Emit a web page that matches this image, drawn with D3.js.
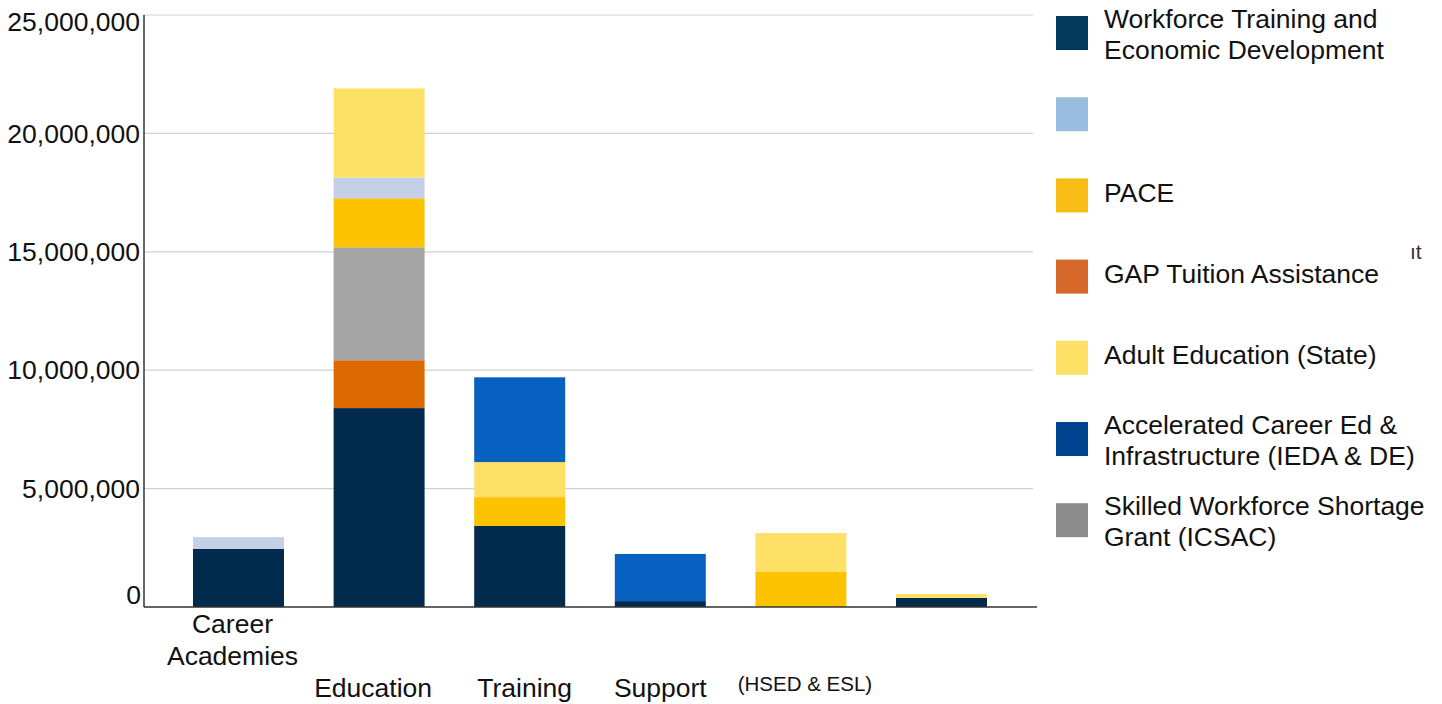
<!DOCTYPE html>
<html>
<head>
<meta charset="utf-8">
<script src="https://cdn.jsdelivr.net/npm/d3@7"></script>
<style>
  html, body { margin: 0; padding: 0; background: #fff; }
  svg { display: block; font-family: "Liberation Sans", Arial, sans-serif; }
</style>
</head>
<body>
<svg id="chart" width="1442" height="704"></svg>
<script>
// ---- data ----
const categories = ["Career Academies", "Education", "Training", "Support", "HSED & ESL", "Other"];
const categoryLabelLines = [
  ["Career", "Academies"],
  ["", "", "Education"],
  ["", "", "Training"],
  ["", "", "Support"],
  ["", "", "(HSED & ESL)"],
  []
];
const seriesNames = [
  "Workforce Training and Economic Development",
  "GAP Tuition Assistance",
  "Skilled Workforce Shortage Grant (ICSAC)",
  "PACE",
  "",
  "Adult Education (State)",
  "Accelerated Career Ed & Infrastructure (IEDA & DE)"
];
const workforceTraining = [2450000, 8400000, 3420000, 250000, 0, 380000];
const gapTuition        = [0, 2020000, 0, 0, 0, 0];
const skilledWorkforce  = [0, 4770000, 0, 0, 0, 0];
const pace              = [0, 2070000, 1220000, 0, 1480000, 0];
const unnamedSeries     = [500000, 880000, 0, 0, 0, 0];
const adultEducation    = [0, 3760000, 1480000, 0, 1640000, 170000];
const acceleratedCareer = [0, 0, 3580000, 1990000, 0, 0];
const seriesValues = [workforceTraining, gapTuition, skilledWorkforce, pace, unnamedSeries, adultEducation, acceleratedCareer];
const barColors = ["#012b4c", "#dd6a00", "#a5a5a5", "#fdc300", "#c4d0e8", "#ffe066", "#0761c0"];

const legendLines = [
  ["Workforce Training and", "Economic Development"],
  [],
  ["PACE"],
  ["GAP Tuition Assistance"],
  ["Adult Education (State)"],
  ["Accelerated Career Ed &", "Infrastructure (IEDA & DE)"],
  ["Skilled Workforce Shortage", "Grant (ICSAC)"]
];
const legendColors = ["#023a5e", "#99bde0", "#f9bc15", "#d5672a", "#ffe066", "#014590", "#8c8c8c"];
const yTicks = [0, 5000000, 10000000, 15000000, 20000000, 25000000];

// ---- layout ----
const labelShift = [-6, -6, 5, 0, 4, 0];
const svg = d3.select("#chart");
const x = d3.scaleBand().domain(categories).range([168.2, 1011.8]).paddingInner(0.353).paddingOuter(0.1765);
const y = d3.scaleLinear().domain([0, 25000000]).range([607, 15]);

// gridlines
svg.append("g").selectAll("line").data(yTicks.filter(d => d > 0)).join("line")
  .attr("x1", 144).attr("x2", 1033)
  .attr("y1", d => y(d)).attr("y2", d => y(d))
  .attr("stroke", "#d0d0d0").attr("stroke-width", 1.2);

// y tick labels
svg.append("g").selectAll("text").data(yTicks).join("text")
  .attr("x", d => d === 0 ? 141 : 140)
  .attr("y", d => Math.max(y(d), 22))
  .attr("dy", d => d === 0 ? "-0.1em" : "0.35em")
  .attr("text-anchor", "end")
  .attr("font-size", 26.5)
  .attr("fill", "#111")
  .text(d => d3.format(",")(d));

// stacked bars
const table = categories.map((c, i) => {
  const row = { category: c };
  seriesValues.forEach((s, k) => row["s" + k] = s[i]);
  return row;
});
const stack = d3.stack().keys(seriesValues.map((s, k) => "s" + k));
const layers = stack(table);
svg.append("g").selectAll("g").data(layers).join("g")
  .attr("fill", (d, k) => barColors[k])
  .selectAll("rect").data(d => d.filter(p => p[1] - p[0] > 0)).join("rect")
  .attr("x", d => x(d.data.category))
  .attr("width", x.bandwidth())
  .attr("y", d => y(d[1]))
  .attr("height", d => y(d[0]) - y(d[1]));

// axes lines
svg.append("line").attr("x1", 144).attr("x2", 144).attr("y1", 15).attr("y2", 607)
  .attr("stroke", "#333").attr("stroke-width", 1.5);
svg.append("line").attr("x1", 144).attr("x2", 1037).attr("y1", 607).attr("y2", 607)
  .attr("stroke", "#333").attr("stroke-width", 1.5);

// category labels
const catG = svg.append("g").selectAll("text").data(categories).join("text")
  .attr("text-anchor", "middle")
  .attr("fill", "#111")
  .attr("font-size", (d, i) => categoryLabelLines[i].some(l => l.startsWith("(")) ? 20.5 : 26.5);
catG.each(function(d, i) {
  const t = d3.select(this);
  const cx = x(d) + x.bandwidth() / 2 + labelShift[i];
  categoryLabelLines[i].forEach((line, j) => {
    if (!line) return;
    t.append("tspan").attr("x", cx).attr("y", line.startsWith("(") ? 691 : 633 + j * 32).text(line);
  });
});

// legend
const leg = svg.append("g").selectAll("g").data(legendLines).join("g")
  .attr("transform", (d, i) => `translate(1056, ${16 + i * 81.2})`);
leg.append("rect").attr("width", 32).attr("height", 34).attr("fill", (d, i) => legendColors[i]);
leg.append("text").attr("font-size", 26.5).attr("fill", "#111")
  .each(function(lines) {
    const t = d3.select(this);
    const start = lines.length > 1 ? 18 - (lines.length - 1) * 31.5 / 2 : 14;
    lines.forEach((line, j) => {
      t.append("tspan").attr("x", 48).attr("y", start + j * 31.5).attr("dy", "0.35em").text(line);
    });
  });

// cropped fragment at right edge
svg.append("text").attr("x", 1410).attr("y", 259).attr("font-size", 21).attr("fill", "#333").text("ıt");
</script>
</body>
</html>
